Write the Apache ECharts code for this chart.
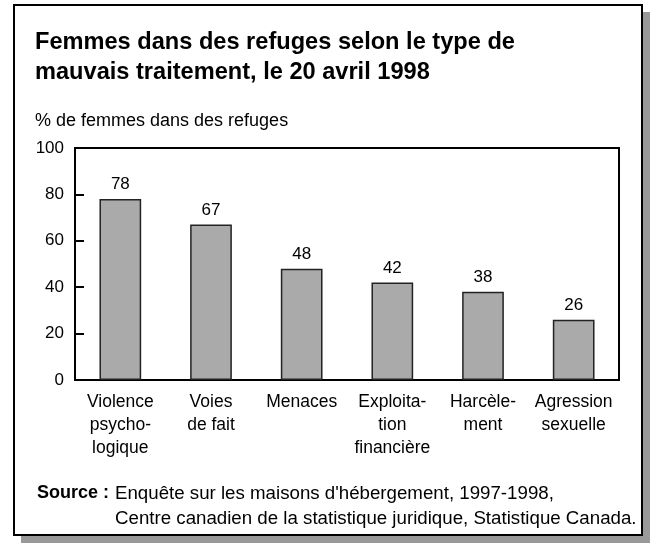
<!DOCTYPE html>
<html><head><meta charset="utf-8">
<script src="https://cdn.jsdelivr.net/npm/echarts@6/dist/echarts.min.js"></script>
<style>html,body{margin:0;padding:0;background:#fff}#c{width:652px;height:545px}</style>
</head><body><div id="c"></div>
<script>
var categories = ['Violence\npsycho-\nlogique', 'Voies\nde fait', 'Menaces', 'Exploita-\ntion\nfinancière', 'Harcèle-\nment', 'Agression\nsexuelle'];
var values = [78, 67, 48, 42, 38, 26];
var yTicks = [0, 20, 40, 60, 80, 100];
var titleLines = ['Femmes dans des refuges selon le type de', 'mauvais traitement, le 20 avril 1998'];
var yAxisName = '% de femmes dans des refuges';
var sourceLabel = 'Source :';
var sourceLines = ["Enquête sur les maisons d'hébergement, 1997-1998,", 'Centre canadien de la statistique juridique, Statistique Canada.'];

var F = '"Liberation Sans", Arial, sans-serif';
var chart = echarts.init(document.getElementById('c'), null, {renderer: 'canvas'});
chart.setOption({
  animation: false,
  backgroundColor: '#fff',
  graphic: [
    {type: 'rect', shape: {x: 21, y: 12, width: 629, height: 531}, style: {fill: '#999'}, z: -10},
    {type: 'rect', shape: {x: 14, y: 5, width: 628, height: 530}, style: {fill: '#fff', stroke: '#000', lineWidth: 2}, z: -5},
    {type: 'text', left: 35, top: 27, style: {text: titleLines.join('\n'), font: 'bold 23.6px ' + F, lineHeight: 30, fill: '#000'}},
    {type: 'text', left: 35, top: 112, style: {text: yAxisName, font: '18px ' + F, fill: '#000'}},
    {type: 'text', left: 37, top: 481, style: {text: sourceLabel, font: 'bold 18px ' + F, lineHeight: 25, fill: '#000'}},
    {type: 'text', left: 115, top: 481, style: {text: sourceLines.join('\n'), font: '18.7px ' + F, lineHeight: 25, fill: '#000'}}
  ],
  grid: {left: 75, right: 33, top: 148, bottom: 165, show: true, borderColor: '#000', borderWidth: 2, backgroundColor: 'transparent'},
  xAxis: {
    type: 'category', data: categories,
    axisLine: {show: true, lineStyle: {color: '#000', width: 2}},
    axisTick: {show: false},
    axisLabel: {color: '#000', fontFamily: F, fontSize: 17.5, lineHeight: 23, margin: 11, interval: 0}
  },
  yAxis: {
    type: 'value', min: 0, max: 100, interval: 20,
    axisLine: {show: true, lineStyle: {color: '#000', width: 2}},
    axisTick: {show: true, inside: true, length: 9, lineStyle: {color: '#000', width: 2}},
    splitLine: {show: false},
    axisLabel: {color: '#000', fontFamily: F, fontSize: 17, margin: 11,
      formatter: function (v) { return yTicks.indexOf(v) >= 0 ? String(v) : ''; }}
  },
  series: [{
    type: 'bar', data: values, barWidth: '46%',
    itemStyle: {color: '#aaaaaa', borderColor: '#222', borderWidth: 1.5},
    label: {show: true, position: 'top', distance: 6, color: '#000', fontFamily: F, fontSize: 17}
  }]
});
</script></body></html>
